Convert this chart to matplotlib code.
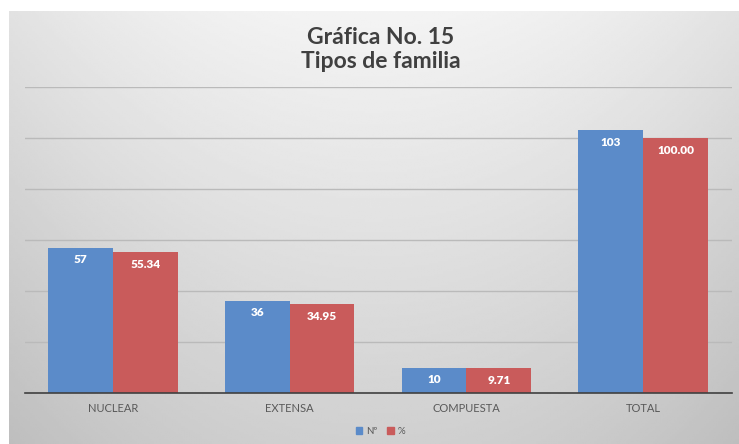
import numpy as np
import matplotlib
matplotlib.use("Agg")
import matplotlib.pyplot as plt
from matplotlib.patches import Patch

categorias = ["NUCLEAR", "EXTENSA", "COMPUESTA", "TOTAL"]
numero = [57, 36, 10, 103]
porcentaje = [55.34, 34.95, 9.71, 100.00]
etiquetas_pct = ["55.34", "34.95", "9.71", "100.00"]

azul = "#5B8BC9"
rojo = "#C95B5B"
fuente = "Lato"

fig = plt.figure(figsize=(7.39, 4.44), dpi=100)
fig.patch.set_facecolor("white")

# fondo con degradado gris (mas claro arriba al centro)
fondo = fig.add_axes([9 / 739, 0, 730 / 739, 433 / 444], zorder=0)
yy, xx = np.mgrid[0:1:200j, -1:1:300j]
val = 0.955 - 0.14 * yy - 0.07 * xx ** 2
fondo.imshow(val, cmap="gray", vmin=0, vmax=1, aspect="auto",
             extent=[0, 1, 0, 1], origin="upper", interpolation="bilinear")
fondo.set_axis_off()

ax = fig.add_axes([24.5 / 739, 1 - 393 / 444, 707 / 739, 306 / 444], zorder=1)
ax.patch.set_alpha(0)

x = np.arange(len(categorias))
ancho = 0.367
ax.bar(x - ancho / 2, numero, ancho, color=azul, label="Nº", zorder=3)
ax.bar(x + ancho / 2, porcentaje, ancho, color=rojo, label="%", zorder=3)

for xi, v in zip(x, numero):
    ax.text(xi - ancho / 2, v - 4.6, str(v), ha="center", va="center",
            color="white", fontsize=8.5, fontweight="heavy", family=fuente, zorder=4)
for xi, v, t in zip(x, porcentaje, etiquetas_pct):
    ax.text(xi + ancho / 2, v - 4.9, t, ha="center", va="center",
            color="white", fontsize=8.5, fontweight="heavy", family=fuente, zorder=4)

ax.set_xlim(-0.5, len(categorias) - 0.5)
ax.set_ylim(0, 120)
ax.set_yticks(range(0, 121, 20))
ax.yaxis.grid(True, color="#bababa", linewidth=1, zorder=0)
ax.tick_params(axis="y", left=False, labelleft=False)
ax.tick_params(axis="x", bottom=False, pad=4)
ax.set_xticks(x)
ax.set_xticklabels(categorias, fontsize=8, color="#595959", family=fuente)
for lado in ["top", "right", "left"]:
    ax.spines[lado].set_visible(False)
ax.spines["bottom"].set_color("#404040")
ax.spines["bottom"].set_linewidth(1.2)
ax.spines["bottom"].set_zorder(5)

fig.text(0.515, 1 - 37 / 444, "Gráfica No. 15", ha="center", va="center",
         fontsize=16.5, fontweight="bold", color="#404040", family=fuente)
fig.text(0.515, 1 - 61 / 444, "Tipos de familia", ha="center", va="center",
         fontsize=16.5, fontweight="bold", color="#404040", family=fuente)

fig.legend(handles=[Patch(color=azul, label="Nº"), Patch(color=rojo, label="%")],
           loc="center", bbox_to_anchor=(0.515, 1 - 431 / 444), ncol=2,
           frameon=False, handlelength=0.7, handleheight=0.7,
           handletextpad=0.4, columnspacing=1.0, labelcolor="#595959",
           prop={"family": fuente, "size": 7})

fig.savefig("out.png", dpi=100)
